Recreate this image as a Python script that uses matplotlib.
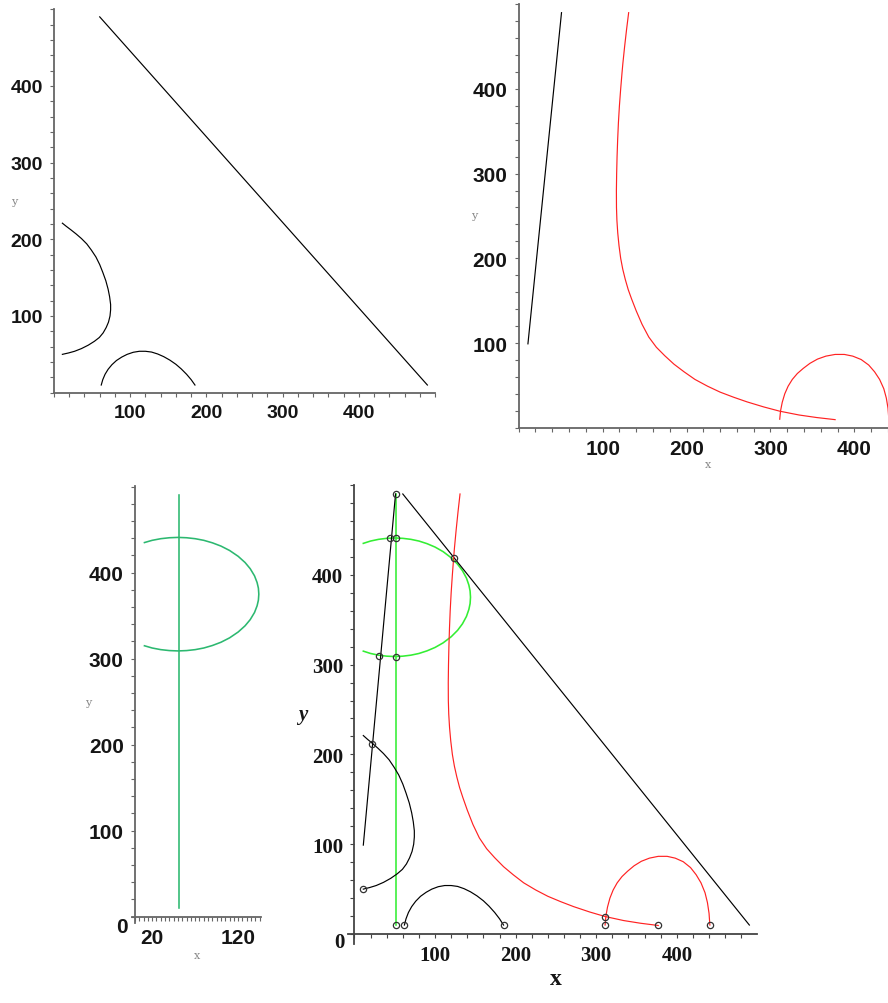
import matplotlib
matplotlib.use("Agg")
import matplotlib.pyplot as plt
from matplotlib.ticker import MultipleLocator
from matplotlib.patches import Rectangle

# curves (x, y)
arc_c_x = [11, 16, 22, 29, 36, 43, 49, 55, 60, 64, 68, 71, 73, 74.3, 74.3, 73.5, 71.5,
           68.5, 64.5, 59.5, 53, 45, 36, 27, 19, 11]
arc_c_y = [221, 217, 212.5, 207, 201, 194, 186, 177, 167, 157, 146, 135, 125, 115, 108,
           100, 92, 85, 78, 72, 67, 62, 57.5, 54, 51.8, 50]

hump_x = [62, 64, 67, 71, 76, 82, 89, 96, 104, 112, 120, 128, 136, 144, 152, 160, 167,
          174, 180, 185]
hump_y = [10, 17, 24, 30.5, 36.5, 42, 46.5, 50, 52.7, 54, 54, 53, 50.5, 47, 42.5, 37, 31,
          24, 17, 10]

diag_x = [60, 490]
diag_y = [490, 10]

steep_x = [11, 51]
steep_y = [99, 490]

vert_x = [51, 51]
vert_y = [10, 490]

ell_x = [11, 20, 30, 40, 50, 60, 70, 80, 90, 100, 110, 120, 128, 134, 139, 142, 143.5, 144,
         143.5, 142, 139, 134, 128, 120, 110, 100, 90, 80, 70, 60, 50, 40, 30, 20, 11]
ell_y = [435, 437.6, 439.5, 440.6, 441, 440.6, 439.5, 437.6, 434.7, 430.9, 425.8, 419,
         411.8, 404.6, 396.3, 388.5, 382, 375, 368, 361.5, 353.7, 345.4, 338.2, 331, 324.2,
         319.1, 315.3, 312.4, 310.5, 309.4, 309, 309.4, 310.5, 312.4, 315]

red_x = [131, 128.5, 126.2, 124.1, 123.1, 121.5, 120, 118.8, 117.9, 117.2, 116.7, 116.4,
         116.5, 117, 118, 119.5, 121.5, 124, 127, 130.5, 134.5, 140, 147, 155, 164, 174,
         185, 197, 210, 225, 240, 256, 272, 292, 311, 334, 355, 377]
red_y = [490, 470, 450, 430, 419, 400, 380, 360, 340, 320, 300, 280, 260, 245, 230, 215,
         200, 187, 175, 163, 152, 138, 122, 107, 95, 85, 75, 66, 57, 49, 42, 36, 30.5,
         24.5, 19.5, 15, 12, 9.5]

loop_x = [311, 312, 314, 317, 321, 326, 332, 339, 347, 356, 366, 377, 388, 398, 408, 417,
          424, 430, 435, 438, 440, 441]
loop_y = [10, 20, 30, 40, 49, 57, 64, 70, 76, 81, 84.5, 86.5, 86.5, 84.5, 80.5, 74, 66,
          57, 46, 35, 23, 10]

pts_x = [51, 44, 51, 31, 51, 22, 123, 11, 51, 62, 185, 311, 311, 377, 441]
pts_y = [490, 441, 441, 310, 308, 212, 419, 50, 10, 10, 10, 10, 19.5, 10, 10]

W, H = 888, 1004
fig = plt.figure(figsize=(W / 100, H / 100), dpi=100)


def rect(left, top, right, bottom):
    return [left / W, 1 - bottom / H, (right - left) / W, (bottom - top) / H]


def style(ax, fam, size, xmin_step, ymin_step, axcol="#666666"):
    for s in ["top", "right"]:
        ax.spines[s].set_visible(False)
    for s in ["left", "bottom"]:
        ax.spines[s].set_color(axcol)
        ax.spines[s].set_linewidth(1.3)
    ax.xaxis.set_minor_locator(MultipleLocator(xmin_step))
    ax.yaxis.set_minor_locator(MultipleLocator(ymin_step))
    ax.tick_params(which="both", direction="out", length=3, width=0.8, colors=axcol,
                   labelcolor="#151515", labelsize=size, pad=5)
    for lab in ax.get_xticklabels() + ax.get_yticklabels():
        lab.set_fontfamily(fam)
        lab.set_fontweight("bold")


lw = 0.85
sans = "Liberation Sans"
serif = "Liberation Serif"
red = "#ff2222"

# top left
ax1 = fig.add_axes(rect(54, 10.2, 435, 393.7))
ax1.plot(arc_c_x, arc_c_y, color="black", lw=lw)
ax1.plot(hump_x, hump_y, color="black", lw=lw)
ax1.plot(diag_x, diag_y, color="black", lw=lw)
ax1.set_xlim(0, 500)
ax1.set_ylim(0, 500)
ax1.set_xticks([100, 200, 300, 400])
ax1.set_yticks([100, 200, 300, 400])
style(ax1, sans, 14, 20, 20)
fig.text(14 / W, 1 - 202 / H, "y", fontsize=8, color="#888888", family="DejaVu Serif",
         ha="center", va="center")
fig.text(245 / W, 1 - 431 / H, "x", fontsize=8, color="#888888", family="DejaVu Serif",
         ha="center", va="center", zorder=5)
fig.patches.append(Rectangle((230 / W, 1 - 450 / H), 30 / W, 24 / H, transform=fig.transFigure,
                             facecolor="white", edgecolor="none", zorder=6))

# top right
ax2 = fig.add_axes(rect(518.7, 5.2, 888, 428.7))
ax2.plot(steep_x, steep_y, color="black", lw=lw)
ax2.plot(red_x, red_y, color=red, lw=lw)
ax2.plot(loop_x, loop_y, color=red, lw=lw)
ax2.set_xlim(0, 440)
ax2.set_ylim(0, 500)
ax2.set_xticks([100, 200, 300, 400])
ax2.set_yticks([100, 200, 300, 400])
style(ax2, sans, 15, 20, 20)
fig.text(474 / W, 1 - 216 / H, "y", fontsize=8, color="#888888", family="DejaVu Serif",
         ha="center", va="center")
fig.text(708 / W, 1 - 465 / H, "x", fontsize=8, color="#888888", family="DejaVu Serif",
         ha="center", va="center")

# bottom left
ax3 = fig.add_axes(rect(132.4, 486.8, 261.4, 923.7))
ax3.plot(vert_x, vert_y, color="#2cb870", lw=lw + 0.3)
ax3.plot(ell_x, ell_y, color="#2cb870", lw=lw + 0.3)
ax3.set_xlim(-3, 147)
ax3.set_ylim(-7, 501)
ax3.spines["left"].set_position(("data", 0))
ax3.spines["bottom"].set_position(("data", 0))
ax3.set_xticks([20, 120])
ax3.set_yticks([100, 200, 300, 400])
style(ax3, sans, 15, 5, 20)
fig.text(122 / W, 1 - 928 / H, "0", fontsize=15, fontweight="bold", family=sans,
         color="#151515", ha="center", va="center")
fig.text(88 / W, 1 - 703 / H, "y", fontsize=8, color="#888888", family="DejaVu Serif",
         ha="center", va="center")
fig.text(197 / W, 1 - 956 / H, "x", fontsize=8, color="#888888", family="DejaVu Serif",
         ha="center", va="center")

# bottom right
ax4 = fig.add_axes(rect(348, 486, 756.6, 944.9))
ax4.plot(vert_x, vert_y, color="#33ee33", lw=lw + 0.3)
ax4.plot(ell_x, ell_y, color="#33ee33", lw=lw + 0.3)
ax4.plot(steep_x, steep_y, color="black", lw=lw)
ax4.plot(arc_c_x, arc_c_y, color="black", lw=lw)
ax4.plot(hump_x, hump_y, color="black", lw=lw)
ax4.plot(diag_x, diag_y, color="black", lw=lw)
ax4.plot(red_x, red_y, color=red, lw=lw)
ax4.plot(loop_x, loop_y, color=red, lw=lw)
ax4.plot(pts_x, pts_y, "o", ms=4.5, mfc="none", mec="#333333", mew=0.9)
ax4.set_xlim(-8, 499)
ax4.set_ylim(-11, 500)
ax4.spines["left"].set_position(("data", 0))
ax4.spines["bottom"].set_position(("data", 0))
ax4.set_xticks([100, 200, 300, 400])
ax4.set_yticks([100, 200, 300, 400])
style(ax4, serif, 15, 20, 20, axcol="#444444")
fig.text(339 / W, 1 - 943 / H, "0", fontsize=15, fontweight="bold", family=serif,
         color="#151515", ha="center", va="center")
fig.text(556 / W, 1 - 980 / H, "x", fontsize=17, fontweight="bold", family=serif,
         color="#151515", ha="center", va="center")
fig.text(303 / W, 1 - 715 / H, "y", fontsize=15, fontweight="bold", style="italic",
         family=serif, color="#151515", ha="center", va="center")

fig.savefig("out.png", dpi=100)
